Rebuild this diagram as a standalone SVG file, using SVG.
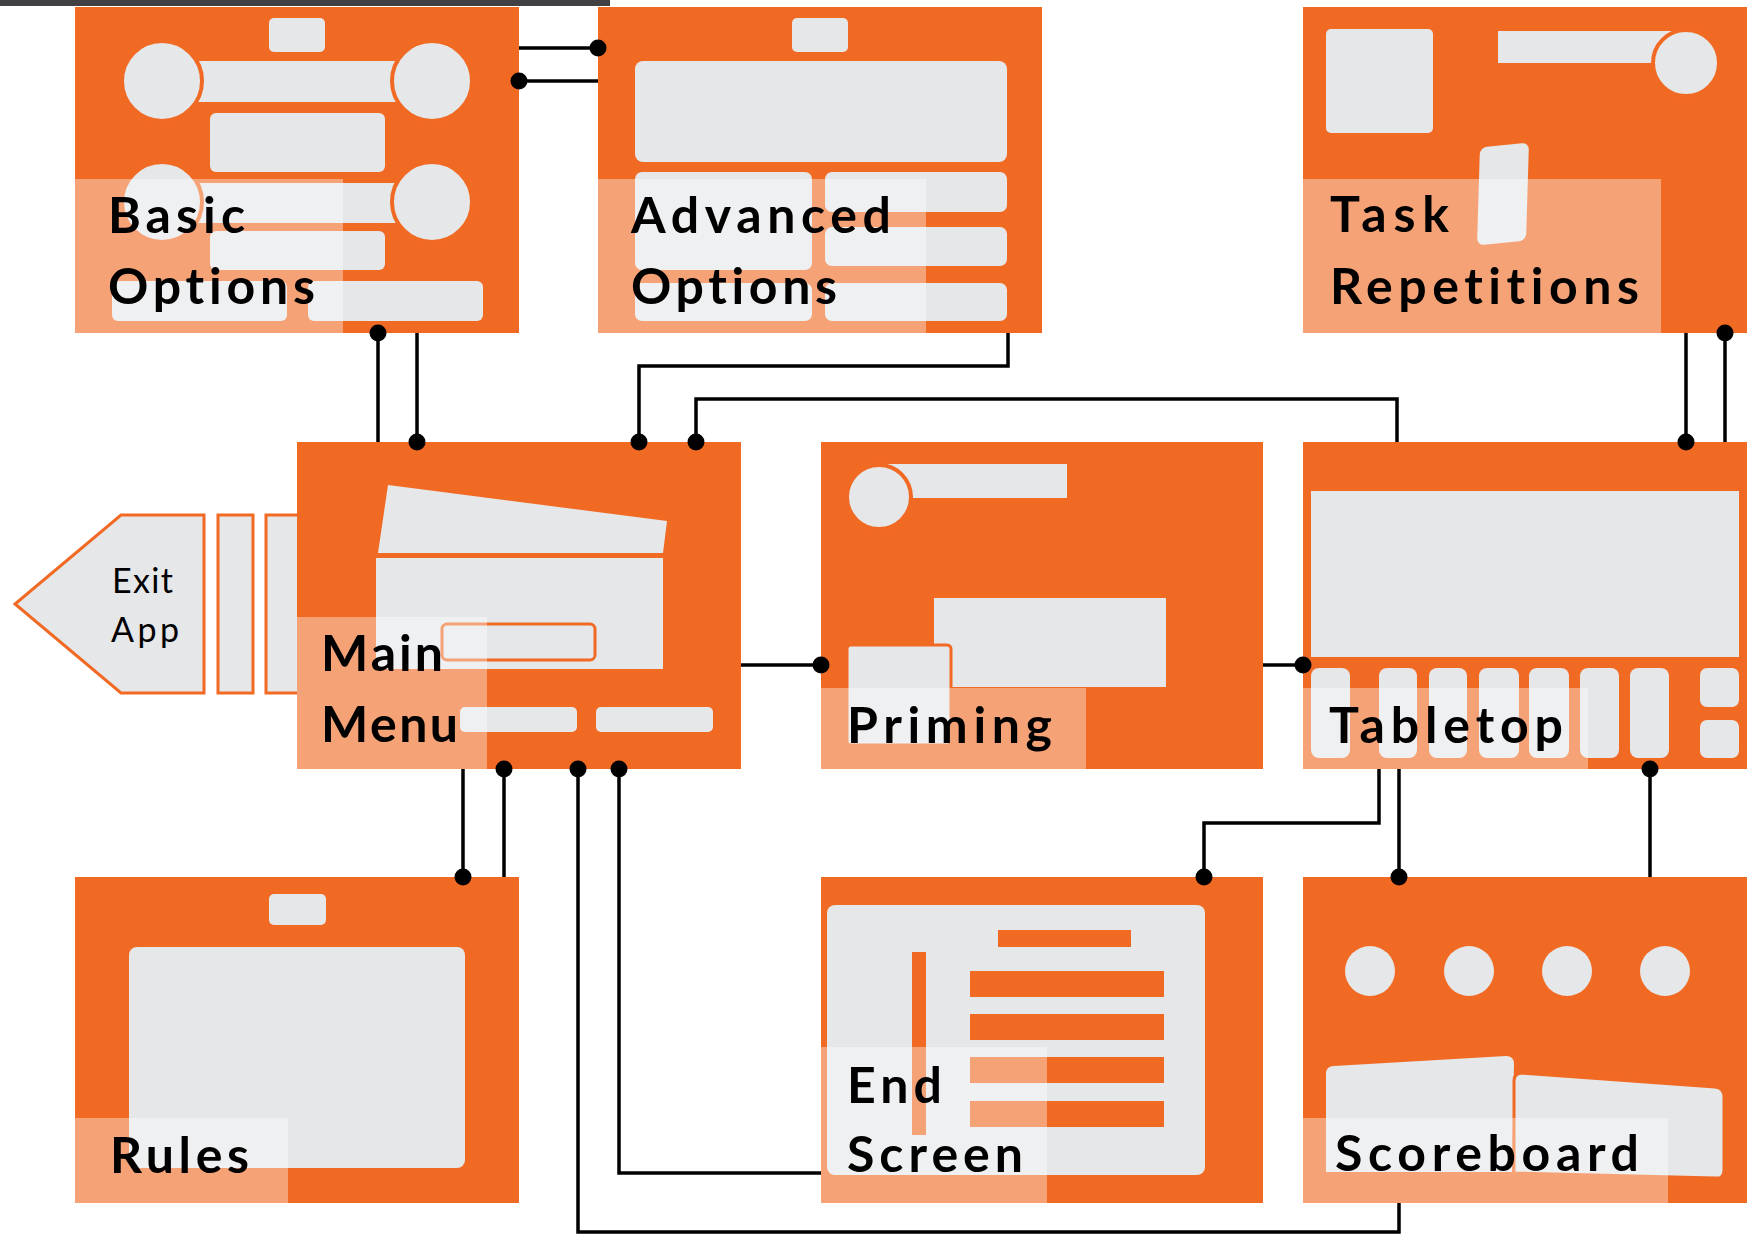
<svg xmlns="http://www.w3.org/2000/svg" width="1753" height="1234" viewBox="0 0 1753 1234">
<style>
.box{fill:#F16A24}
.g{fill:#E6E7E8}
.go{fill:#E6E7E8;stroke:#F16A24;stroke-width:4}
.ov{fill:#FFFFFF;fill-opacity:0.38}
.ob{fill:#F16A24}
.lbl{font-family:"Lato","Open Sans","DejaVu Sans",sans-serif;font-weight:700;font-size:50px;fill:#000;font-variant-ligatures:none;font-feature-settings:"liga" 0,"clig" 0}
.ex{font-family:"Lato","Liberation Sans",sans-serif;font-size:34px;fill:#000}
.c{fill:none;stroke:#000;stroke-width:3.5}
.d{fill:#000}
</style>
<rect width="1753" height="1234" fill="#FFFFFF"/>
<rect x="0" y="0" width="610" height="6" fill="#414042"/>

<g id="basic-options">
<rect class="box" x="75" y="7" width="444" height="326"/>
<rect class="g" x="269" y="18" width="56" height="34" rx="5"/>
<rect class="g" x="190" y="61" width="210" height="41"/>
<circle class="go" cx="162" cy="81" r="40"/>
<circle class="go" cx="432" cy="81" r="40"/>
<rect class="g" x="210" y="113" width="175" height="59" rx="6"/>
<rect class="g" x="190" y="183" width="210" height="40"/>
<circle class="go" cx="162" cy="202" r="40"/>
<circle class="go" cx="432" cy="202" r="40"/>
<rect class="g" x="210" y="231" width="175" height="39" rx="6"/>
<rect class="g" x="112" y="281" width="175" height="40" rx="6"/>
<rect class="g" x="308" y="281" width="175" height="40" rx="6"/>
<rect class="ov" x="75" y="179" width="268" height="154"/>
<text class="lbl" x="108" y="233" textLength="137">Basic</text>
<text class="lbl" x="108" y="304" textLength="207">Options</text>
</g>

<g id="advanced-options">
<rect class="box" x="598" y="7" width="444" height="326"/>
<rect class="g" x="792" y="18" width="56" height="34" rx="5"/>
<rect class="g" x="635" y="61" width="372" height="101" rx="8"/>
<rect class="g" x="635" y="172" width="177" height="98" rx="7"/>
<rect class="g" x="635" y="283" width="177" height="38" rx="7"/>
<rect class="g" x="825" y="172" width="182" height="40" rx="7"/>
<rect class="g" x="825" y="227" width="182" height="39" rx="7"/>
<rect class="g" x="825" y="283" width="182" height="38" rx="7"/>
<rect class="ov" x="598" y="179" width="328" height="154"/>
<text class="lbl" x="631" y="233" textLength="260">Advanced</text>
<text class="lbl" x="631" y="304" textLength="206">Options</text>
</g>

<g id="task-repetitions">
<rect class="box" x="1303" y="7" width="444" height="326"/>
<rect class="g" x="1326" y="29" width="107" height="104" rx="5"/>
<rect class="g" x="1498" y="31" width="180" height="32"/>
<circle class="go" cx="1686" cy="63" r="33"/>
<rect class="g" x="-24.5" y="-49" width="49" height="98" rx="7" transform="matrix(1 -0.1 -0.03 1 1503 194)"/>
<rect class="ov" x="1303" y="179" width="358" height="154"/>
<text class="lbl" x="1330" y="232" textLength="119">Task</text>
<text class="lbl" x="1330" y="304" textLength="309">Repetitions</text>
</g>

<g id="exit-app">
<polygon points="121,515 204,515 204,693 121,693 15,604" fill="#E6E7E8" stroke="#F16A24" stroke-width="3"/>
<rect x="218" y="515" width="35" height="178" fill="#E6E7E8" stroke="#F16A24" stroke-width="3"/>
<rect x="266" y="515" width="40" height="178" fill="#E6E7E8" stroke="#F16A24" stroke-width="3"/>
<text class="ex" x="112" y="593" textLength="61">Exit</text>
<text class="ex" x="111" y="642" textLength="68">App</text>
</g>

<g id="main-menu">
<rect class="box" x="297" y="442" width="444" height="327"/>
<polygon class="g" points="388,485 667,521 663,553 378,553"/>
<rect class="g" x="376" y="558" width="287" height="111"/>
<rect x="442" y="624" width="153" height="36" rx="5" fill="#E6E7E8" stroke="#F16A24" stroke-width="3"/>
<rect class="g" x="460" y="707" width="117" height="25" rx="5"/>
<rect class="g" x="596" y="707" width="117" height="25" rx="5"/>
<rect class="ov" x="297" y="617" width="190" height="152"/>
<text class="lbl" x="321" y="671" textLength="122">Main</text>
<text class="lbl" x="321" y="742" textLength="137">Menu</text>
</g>

<g id="priming">
<rect class="box" x="821" y="442" width="442" height="327"/>
<rect class="g" x="885" y="464" width="182" height="34"/>
<circle class="go" cx="879" cy="497" r="32"/>
<rect class="g" x="934" y="598" width="232" height="89"/>
<rect x="847" y="645" width="104" height="100" rx="4" fill="#E6E7E8" stroke="#F16A24" stroke-width="3"/>
<rect class="ov" x="821" y="688" width="265" height="81"/>
<text class="lbl" x="847" y="743" textLength="205">Priming</text>
</g>

<g id="tabletop">
<rect class="box" x="1303" y="442" width="444" height="327"/>
<rect class="g" x="1311" y="491" width="428" height="166"/>
<rect class="g" x="1311" y="668" width="39" height="90" rx="8"/>
<rect class="g" x="1379" y="668" width="38" height="90" rx="8"/>
<rect class="g" x="1429" y="668" width="38" height="90" rx="8"/>
<rect class="g" x="1479" y="668" width="40" height="90" rx="8"/>
<rect class="g" x="1529" y="668" width="40" height="90" rx="8"/>
<rect class="g" x="1580" y="668" width="39" height="90" rx="8"/>
<rect class="g" x="1630" y="668" width="39" height="90" rx="8"/>
<rect class="g" x="1700" y="668" width="39" height="39" rx="7"/>
<rect class="g" x="1700" y="720" width="39" height="38" rx="7"/>
<rect class="ov" x="1303" y="688" width="285" height="81"/>
<text class="lbl" x="1329" y="743" textLength="234">Tabletop</text>
</g>

<g id="rules">
<rect class="box" x="75" y="877" width="444" height="326"/>
<rect class="g" x="269" y="894" width="57" height="31" rx="5"/>
<rect class="g" x="129" y="947" width="336" height="221" rx="8"/>
<rect class="ov" x="75" y="1118" width="213" height="85"/>
<text class="lbl" x="110" y="1173" textLength="139">Rules</text>
</g>

<g id="end-screen">
<rect class="box" x="821" y="877" width="442" height="326"/>
<rect class="g" x="827" y="905" width="378" height="270" rx="8"/>
<rect class="ob" x="912" y="952" width="14" height="183"/>
<rect class="ob" x="998" y="930" width="133" height="17"/>
<rect class="ob" x="970" y="971" width="194" height="26"/>
<rect class="ob" x="970" y="1014" width="194" height="26"/>
<rect class="ob" x="970" y="1057" width="194" height="26"/>
<rect class="ob" x="970" y="1101" width="194" height="26"/>
<rect class="ov" x="821" y="1047" width="226" height="156"/>
<text class="lbl" x="847" y="1103" textLength="95">End</text>
<text class="lbl" x="847" y="1172" textLength="176">Screen</text>
</g>

<g id="scoreboard">
<rect class="box" x="1303" y="877" width="444" height="326"/>
<circle class="g" cx="1370" cy="971" r="25"/>
<circle class="g" cx="1469" cy="971" r="25"/>
<circle class="g" cx="1567" cy="971" r="25"/>
<circle class="g" cx="1665" cy="971" r="25"/>
<path class="g" d="M1334 1066 L1506 1056 Q1514 1056 1514 1064 L1512 1172 L1326 1172 L1326 1074 Q1326 1066 1334 1066 Z"/>
<path d="M1522 1073 L1715 1087 Q1724 1088 1724 1097 L1724 1170 Q1724 1179 1715 1178 L1514 1173 L1514 1081 Q1514 1073 1522 1073 Z" fill="#E6E7E8" stroke="#F16A24" stroke-width="3"/>
<rect class="ov" x="1303" y="1118" width="365" height="85"/>
<text class="lbl" x="1335" y="1171" textLength="304">Scoreboard</text>
</g>

<g id="connectors">
<path class="c" d="M519 48 H598"/>
<path class="c" d="M519 81 H598"/>
<path class="c" d="M378 333 V442"/>
<path class="c" d="M417 333 V442"/>
<path class="c" d="M1008 333 V366 H639 V442"/>
<path class="c" d="M1397 442 V399 H696 V442"/>
<path class="c" d="M741 665 H821"/>
<path class="c" d="M1263 665 H1303"/>
<path class="c" d="M1686 333 V442"/>
<path class="c" d="M1725 333 V442"/>
<path class="c" d="M463 769 V877"/>
<path class="c" d="M504 769 V877"/>
<path class="c" d="M578 769 V1232 H1399 V1203"/>
<path class="c" d="M619 769 V1173 H821"/>
<path class="c" d="M1379 769 V823 H1204 V877"/>
<path class="c" d="M1399 769 V877"/>
<path class="c" d="M1650 769 V877"/>
<circle class="d" cx="598" cy="48" r="8.5"/>
<circle class="d" cx="519" cy="81" r="8.5"/>
<circle class="d" cx="378" cy="333" r="8.5"/>
<circle class="d" cx="417" cy="442" r="8.5"/>
<circle class="d" cx="639" cy="442" r="8.5"/>
<circle class="d" cx="696" cy="442" r="8.5"/>
<circle class="d" cx="821" cy="665" r="8.5"/>
<circle class="d" cx="1303" cy="665" r="8.5"/>
<circle class="d" cx="1686" cy="442" r="8.5"/>
<circle class="d" cx="1725" cy="333" r="8.5"/>
<circle class="d" cx="463" cy="877" r="8.5"/>
<circle class="d" cx="504" cy="769" r="8.5"/>
<circle class="d" cx="578" cy="769" r="8.5"/>
<circle class="d" cx="619" cy="769" r="8.5"/>
<circle class="d" cx="1204" cy="877" r="8.5"/>
<circle class="d" cx="1399" cy="877" r="8.5"/>
<circle class="d" cx="1650" cy="769" r="8.5"/>
</g>
</svg>
